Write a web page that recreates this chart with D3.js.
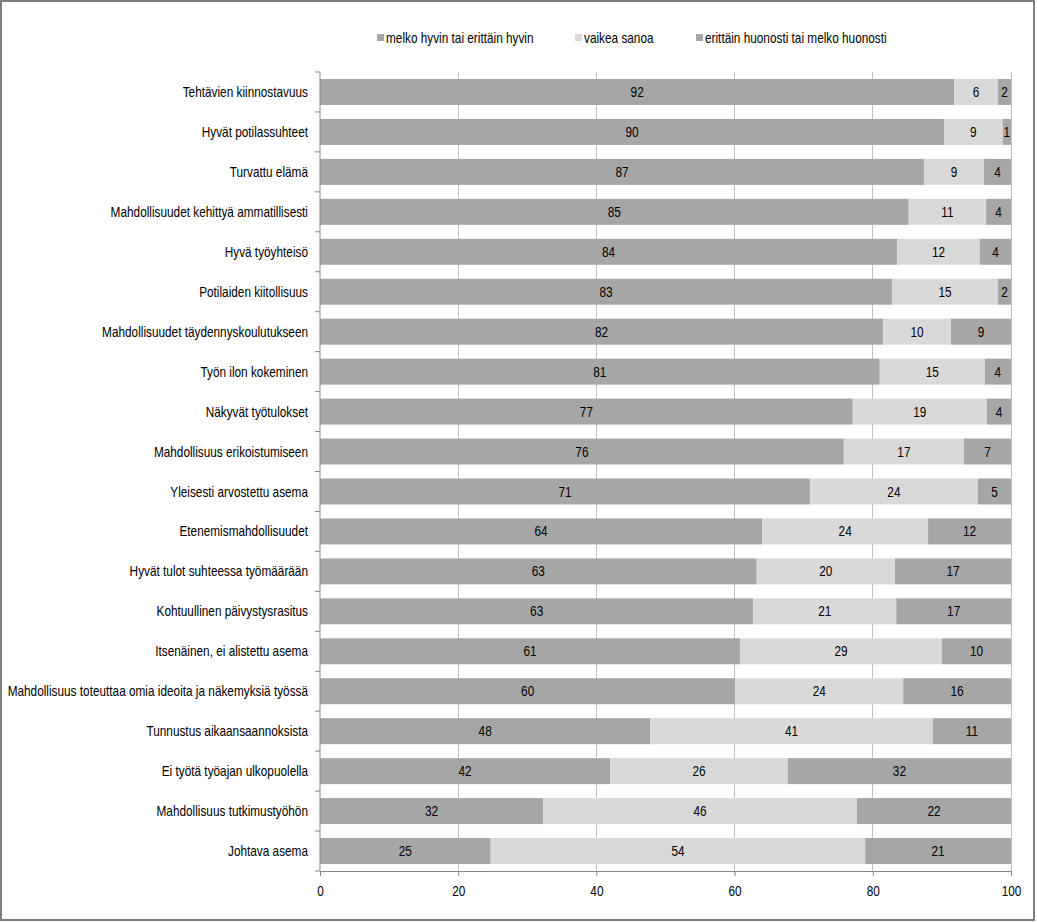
<!DOCTYPE html>
<html><head><meta charset="utf-8">
<script src="https://cdn.jsdelivr.net/npm/d3@7/dist/d3.min.js"></script>
<style>
body{margin:0;background:#fff;}
text{font-family:"Liberation Sans",Arial,sans-serif;fill:#000;}
</style></head>
<body><svg id="c" width="1037" height="923"></svg>
<script>
const categories = ["Tehtävien kiinnostavuus","Hyvät potilassuhteet","Turvattu elämä","Mahdollisuudet kehittyä ammatillisesti","Hyvä työyhteisö","Potilaiden kiitollisuus","Mahdollisuudet täydennyskoulutukseen","Työn ilon kokeminen","Näkyvät työtulokset","Mahdollisuus erikoistumiseen","Yleisesti arvostettu asema","Etenemismahdollisuudet","Hyvät tulot suhteessa työmäärään","Kohtuullinen päivystysrasitus","Itsenäinen, ei alistettu asema","Mahdollisuus toteuttaa omia ideoita ja näkemyksiä työssä","Tunnustus aikaansaannoksista","Ei työtä työajan ulkopuolella","Mahdollisuus tutkimustyöhön","Johtava asema"];
const seriesNames = ["melko hyvin tai erittäin hyvin","vaikea sanoa","erittäin huonosti tai melko huonosti"];
const good = [91.8,90.3,87.4,85.2,83.5,82.8,81.5,81.0,77.1,75.8,70.9,64.0,63.2,62.7,60.8,60.1,47.8,42.0,32.3,24.7];
const neutral = [6.3,8.5,8.7,11.2,12.0,15.3,9.8,15.2,19.4,17.4,24.3,24.0,20.0,20.7,29.2,24.3,40.9,25.7,45.4,54.2];
const bad = [1.9,1.2,3.9,3.6,4.5,1.9,8.7,3.8,3.5,6.8,4.8,12.0,16.8,16.6,10.0,15.6,11.3,32.3,22.3,21.1];
const labels = [
 [92,6,2],[90,9,1],[87,9,4],[85,11,4],[84,12,4],[83,15,2],[82,10,9],[81,15,4],[77,19,4],[76,17,7],
 [71,24,5],[64,24,12],[63,20,17],[63,21,17],[61,29,10],[60,24,16],[48,41,11],[42,26,32],[32,46,22],[25,54,21]];
const xTicks = [0,20,40,60,80,100];
const colors = ["#a6a6a6","#d9d9d9","#a6a6a6"];

const SX = 0.82, FS = 14.4;
function narrow(sel, xf, yf){
  sel.attr("x",0).attr("y",0)
     .attr("transform",(d,i)=>`translate(${xf(d,i)},${yf(d,i)}) scale(${SX},1)`);
}

const svg = d3.select("#c");
svg.append("rect").attr("x",1).attr("y",1).attr("width",1033).attr("height",919)
  .attr("fill","none").attr("stroke","#7f7f7f").attr("stroke-width",2);

const L=320,R=1011,T=72,B=871;
const x = d3.scaleLinear().domain([0,100]).range([L,R]);
const y = d3.scaleBand().domain(categories).range([T,B]).paddingInner(0.35).paddingOuter(0.175);

svg.append("g").selectAll("line").data(xTicks.filter(d=>d>0)).join("line")
  .attr("x1",d=>x(d)).attr("x2",d=>x(d)).attr("y1",T).attr("y2",B)
  .attr("stroke","#bfbfbf").attr("stroke-width",1).attr("shape-rendering","crispEdges");

const rows = categories.map((c,i)=>({c,vals:[good[i],neutral[i],bad[i]],lab:labels[i]}));
const segs = rows.map(r=>{let s=0;return r.vals.map((v,k)=>{const o={c:r.c,k,x0:s,x1:s+v,lab:r.lab[k]};s+=v;return o;});}).flat();

svg.append("g").selectAll("rect").data(segs).join("rect")
  .attr("x",d=>x(d.x0)).attr("width",d=>x(d.x1)-x(d.x0))
  .attr("y",d=>y(d.c)).attr("height",y.bandwidth())
  .attr("fill",d=>colors[d.k]);

svg.append("g").selectAll("text").data(segs).join("text")
  .attr("dy","0.35em").attr("text-anchor","middle").attr("font-size",FS)
  .text(d=>d.lab)
  .call(narrow, d=>(x(d.x0)+x(d.x1))/2, d=>y(d.c)+y.bandwidth()/2);

const yAxis = svg.append("g").attr("transform",`translate(${L},0)`);
yAxis.append("line").attr("x1",0).attr("x2",0).attr("y1",T).attr("y2",B).attr("stroke","#868686");
const step = (B-T)/categories.length;
yAxis.selectAll("line.t").data(d3.range(categories.length+1)).join("line").attr("class","t")
  .attr("x1",-5).attr("x2",0).attr("y1",i=>T+i*step).attr("y2",i=>T+i*step).attr("stroke","#868686");
yAxis.selectAll("text").data(categories).join("text")
  .attr("dy","0.35em").attr("text-anchor","end").attr("font-size",FS).text(d=>d)
  .call(narrow, d=>-12, d=>y(d)+y.bandwidth()/2);

const xAxis = svg.append("g").attr("transform",`translate(0,${B})`)
  .call(d3.axisBottom(x).tickValues(xTicks).tickSize(5).tickPadding(10).tickSizeOuter(0));
xAxis.select(".domain").attr("stroke","#868686");
xAxis.selectAll(".tick line").attr("stroke","#868686");
xAxis.selectAll(".tick text").attr("font-size",FS).attr("font-family",'"Liberation Sans",Arial,sans-serif')
  .attr("transform",`scale(${SX},1)`).attr("x",0);

const legX=[377,575,696];
const lg = svg.append("g");
seriesNames.forEach((n,i)=>{
  lg.append("rect").attr("x",legX[i]).attr("y",34).attr("width",7).attr("height",7).attr("fill",colors[i]);
  lg.append("text").attr("dy","0.35em").attr("font-size",FS).text(n)
    .attr("transform",`translate(${legX[i]+9},38) scale(${SX},1)`);
});
</script></body></html>
